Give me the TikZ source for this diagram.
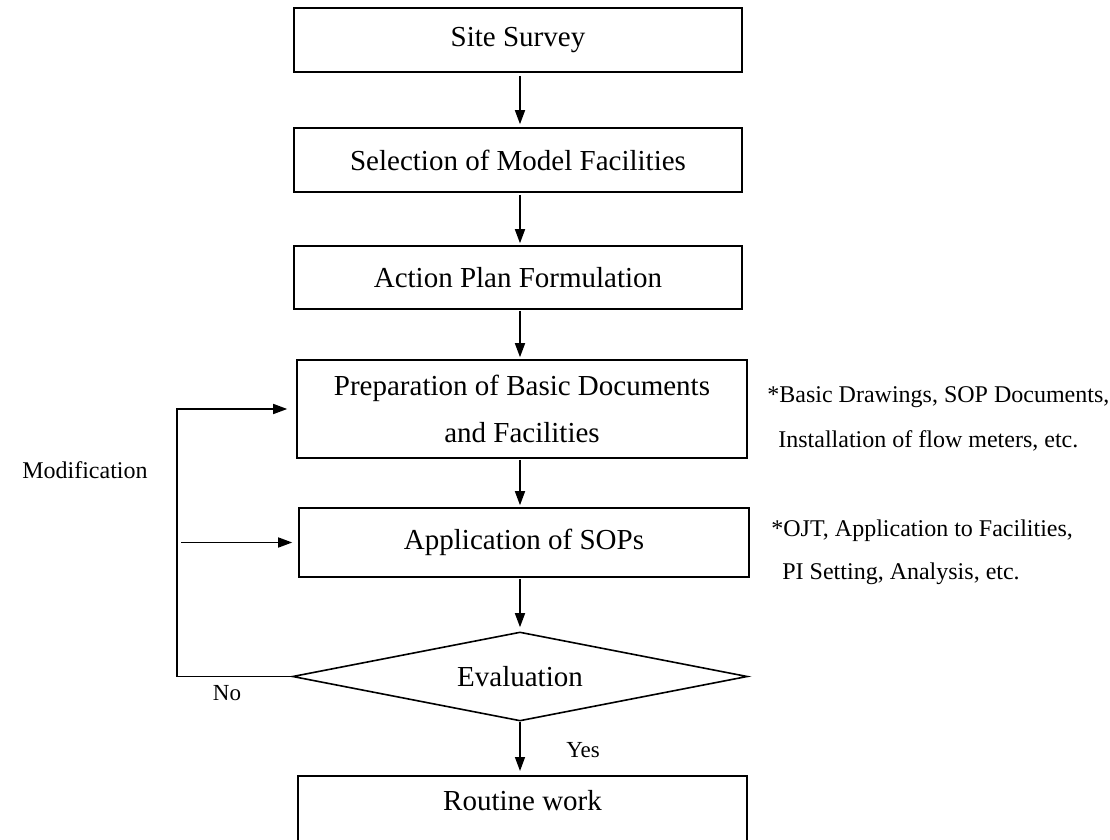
\documentclass[tikz,border=0pt]{standalone}
\usepackage{fontspec}
\setmainfont{Liberation Serif}
\usetikzlibrary{arrows.meta,shapes.geometric}
\begin{document}
\begin{tikzpicture}[x=0.5pt,y=-0.5pt,
  stepbox/.style={draw, line width=0.8pt, rectangle, inner sep=0pt,
    font=\fontsize{14.5}{23.5}\selectfont, align=center},
  decision/.style={draw, line width=0.8pt, diamond, aspect=5.1, inner sep=0pt,
    font=\fontsize{14.5}{17}\selectfont,
    minimum width=227.5pt, minimum height=44.5pt},
  flow/.style={line width=0.75pt, -{Triangle[length=7pt,width=5pt]}},
  note/.style={inner sep=0pt, anchor=base west, font=\fontsize{12}{14}\selectfont},
  tag/.style={inner sep=0pt, font=\fontsize{11.5}{14}\selectfont}]
\useasboundingbox (0,0) rectangle (1110,840);

% main sequence of steps
\node[stepbox, minimum width=224pt, minimum height=32pt] (survey) at (518,40) {Site Survey};
\node[stepbox, minimum width=224pt, minimum height=32pt] (select) at (518,160) {Selection of Model Facilities};
\node[stepbox, minimum width=224pt, minimum height=31.5pt] (plan) at (518,277.5) {Action Plan Formulation};
\node[stepbox, minimum width=225pt, minimum height=49pt] (prep) at (522,409) {Preparation of Basic Documents\\and Facilities};
\node[stepbox, minimum width=225pt, minimum height=34.5pt] (apply) at (524,542.5) {Application of SOPs};
\node[decision] (eval) at (520,676.5) {Evaluation};
\node[stepbox, minimum width=224.5pt, minimum height=45pt, anchor=north] (routine) at (522.5,775) {};
\node[inner sep=0pt, anchor=base, font=\fontsize{14.5}{17}\selectfont] (routinetext) at (522.5,810) {Routine work};

% vertical connectors
\coordinate (axis) at (520,0);
\draw[flow, shorten <=1.5pt, shorten >=1.5pt] (survey.south -| axis) -- (select.north -| axis);
\draw[flow, shorten <=1pt, shorten >=1pt] (select.south -| axis) -- (plan.north -| axis);
\draw[flow, shorten <=0.5pt, shorten >=1pt] (plan.south -| axis) -- (prep.north -| axis);
\draw[flow, shorten <=0.5pt, shorten >=1pt] (prep.south -| axis) -- (apply.north -| axis);
\draw[flow, shorten <=0.5pt, shorten >=2pt] (apply.south -| axis) -- (eval.north);
\draw[flow, shorten >=2pt] (eval.south) -- (routine.north -| eval.south);

% feedback loop on the left
\coordinate (loop) at (177,0);
\draw[flow, shorten >=4.5pt] (eval.west) -- (eval.west -| loop) -- (loop |- prep.west) -- (prep.west);
\draw[flow, shorten <=2pt, shorten >=3pt] (loop |- apply.west) -- (apply.west);

% labels
\node[tag] (no) at (227,693) {No};
\node[tag] (yes) at (583,750) {Yes};
\node[note, anchor=east] (modif) at (148,470) {Modification};

% side notes
\node[note] (n1a) at (767,402) {*Basic Drawings, SOP Documents,};
\node[note] (n1b) at (778,447) {Installation of flow meters, etc.};
\node[note] (n2a) at (771,536) {*OJT, Application to Facilities,};
\node[note] (n2b) at (782,579) {PI Setting, Analysis, etc.};
\end{tikzpicture}
\end{document}
